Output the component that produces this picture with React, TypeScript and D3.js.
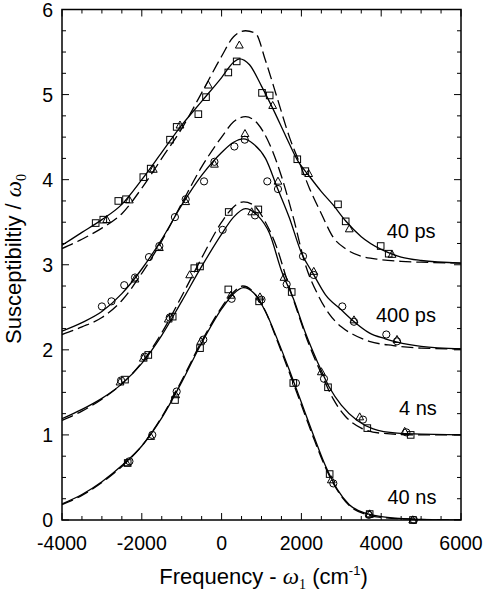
import React from "react";
import * as d3 from "d3";

type P = [number, number];

const xTicks = [-4000, -2000, 0, 2000, 4000, 6000];
const yTicks = [0, 1, 2, 3, 4, 5, 6];
const curveLabels = [
  { text: "40 ps", x: 4750, y: 3.32 },
  { text: "400 ps", x: 4620, y: 2.33 },
  { text: "4 ns", x: 4920, y: 1.23 },
  { text: "40 ns", x: 4770, y: 0.19 },
];

// ---- fitted curves (solid) and model curves (dashed) ----
const ps40Solid: P[] = [[-4000,3.23],[-3500,3.38],[-3000,3.53],[-2500,3.71],[-2000,4.0],[-1500,4.32],[-1000,4.64],[-500,4.92],[0,5.2],[300,5.38],[450,5.42],[700,5.35],[1000,5.1],[1300,4.82],[1600,4.52],[1900,4.23],[2200,4.04],[2500,3.86],[2800,3.7],[3100,3.52],[3500,3.33],[4000,3.18],[4500,3.09],[5000,3.05],[6000,3.02]];
const ps40Dash: P[] = [[-4000,3.19],[-3500,3.3],[-3000,3.43],[-2500,3.6],[-2000,3.9],[-1500,4.25],[-1000,4.6],[-500,5.02],[0,5.45],[300,5.68],[600,5.75],[850,5.72],[1100,5.4],[1400,4.95],[1700,4.5],[1950,4.2],[2200,3.9],[2500,3.6],[2800,3.32],[3100,3.19],[3500,3.1],[4000,3.06],[4500,3.04],[5000,3.03],[6000,3.02]];
const ps400Solid: P[] = [[-4000,2.22],[-3500,2.32],[-3000,2.45],[-2500,2.66],[-2000,2.95],[-1500,3.3],[-1000,3.7],[-500,4.05],[0,4.32],[300,4.44],[550,4.48],[800,4.42],[1100,4.25],[1400,3.9],[1700,3.55],[2000,3.14],[2300,2.89],[2600,2.65],[3000,2.47],[3300,2.34],[3700,2.2],[4100,2.13],[4400,2.09],[5000,2.04],[6000,2.01]];
const ps400Dash: P[] = [[-4000,2.18],[-3500,2.27],[-3000,2.38],[-2500,2.58],[-2000,2.9],[-1500,3.28],[-1000,3.72],[-500,4.15],[0,4.5],[300,4.68],[600,4.74],[900,4.66],[1200,4.42],[1500,4.04],[1800,3.55],[2100,3.0],[2400,2.66],[2700,2.42],[3000,2.27],[3300,2.18],[3700,2.1],[4300,2.05],[5000,2.02],[6000,2.01]];
const ns4Solid: P[] = [[-4000,1.19],[-3500,1.3],[-3000,1.43],[-2500,1.6],[-2000,1.84],[-1500,2.17],[-1000,2.57],[-500,2.98],[0,3.36],[300,3.56],[600,3.66],[900,3.58],[1200,3.37],[1500,2.93],[1800,2.6],[2100,2.2],[2400,1.86],[2700,1.56],[3000,1.35],[3400,1.17],[3800,1.07],[4400,1.02],[5000,1.01],[6000,1.0]];
const ns4Dash: P[] = [[-4000,1.17],[-3500,1.28],[-3000,1.42],[-2500,1.6],[-2000,1.85],[-1500,2.2],[-1000,2.63],[-500,3.08],[0,3.5],[300,3.68],[550,3.74],[800,3.7],[1100,3.5],[1400,3.18],[1600,2.88],[1900,2.45],[2200,2.05],[2500,1.72],[2800,1.42],[3100,1.22],[3500,1.08],[4000,1.02],[5000,1.0],[6000,1.0]];
const ns40Solid: P[] = [[-4000,0.19],[-3500,0.3],[-3000,0.45],[-2500,0.64],[-2000,0.87],[-1500,1.2],[-1000,1.62],[-500,2.08],[0,2.48],[300,2.66],[550,2.73],[800,2.67],[1100,2.45],[1400,2.12],[1700,1.76],[2000,1.38],[2300,1.0],[2600,0.64],[2900,0.36],[3200,0.18],[3600,0.08],[4000,0.04],[4800,0.01],[6000,0.0]];
const ns40Dash: P[] = [[-4000,0.18],[-3500,0.29],[-3000,0.44],[-2500,0.63],[-2000,0.87],[-1500,1.21],[-1000,1.64],[-500,2.1],[0,2.5],[300,2.68],[530,2.75],[800,2.68],[1100,2.45],[1400,2.1],[1700,1.73],[2000,1.35],[2300,0.97],[2600,0.62],[2900,0.35],[3200,0.17],[3600,0.07],[4000,0.03],[4800,0.01],[6000,0.0]];

// ---- data points ----
const squares: P[] = [
  [-3156,3.49],[-2965,3.53],[-2589,3.75],[-2396,3.77],[-1962,4.03],[-1777,4.13],[-1293,4.47],[-1126,4.62],[-583,4.77],[-391,4.97],[168,5.26],[378,5.39],[1013,5.02],[1205,4.99],[1897,4.24],[2098,4.1],[2917,3.71],[3110,3.51],[3987,3.22],[4188,3.13],
  [-2421,1.65],[-1837,1.94],[-1226,2.39],[-684,2.96],[-541,2.98],[178,3.62],[920,3.65],[1757,2.68],[2667,1.56],[3652,1.08],[4739,1.0],
  [-2353,0.67],[-1168,1.41],[-541,2.02],[168,2.71],[940,2.57],[1797,1.61],[2708,0.54],[3711,0.07],[4797,0.0],
];
const triangles: P[] = [
  [-2880,3.53],[-2313,3.76],[-1712,4.12],[-1043,4.64],[-333,5.11],[444,5.58],[1280,4.87],[2182,4.07],[3200,3.42],[4271,3.12],
  [-2170,2.83],[-1560,3.2],[-900,3.74],[-180,4.18],[586,4.54],[1413,3.98],[2310,2.92],[3318,2.35],[4396,2.12],
  [-2546,1.62],[-1962,1.9],[-1336,2.36],[-800,2.88],[754,3.62],[1564,2.85],[2499,1.74],[3461,1.21],[4589,1.04],
  [-2380,0.67],[-1777,0.98],[-1150,1.47],[-520,2.1],[230,2.64],[962,2.62],[2750,0.47],[3711,0.07],[4790,0.0],
];
const circles: P[] = [
  [-3000,2.51],[-2760,2.57],[-2440,2.76],[-2170,2.85],[-1820,3.09],[-1560,3.22],[-1170,3.56],[-900,3.77],[-440,3.98],[-180,4.21],[320,4.39],[580,4.47],[1145,3.98],[1413,3.89],[2040,3.1],[2310,2.88],[3025,2.51],[3318,2.33],[4128,2.18],[4396,2.1],
  [-2520,1.64],[-1930,1.92],[-1300,2.38],[27,3.41],[837,3.58],[1631,2.77],[2566,1.66],[3544,1.18],[4630,1.03],
  [-2310,0.69],[-1737,1.0],[-1126,1.51],[-459,2.12],[252,2.6],[1000,2.59],[1863,1.61],[2800,0.43],[3690,0.06],[4820,0.0],
];

const W = 486, H = 596;
const L = 62, R = 461, T = 9.5, B = 520;
const FONT = "Arial, 'Liberation Sans', Helvetica, sans-serif";
const SERIF = "'Times New Roman', 'Liberation Serif', serif";

export default function App() {
  const x = d3.scaleLinear().domain([-4000, 6000]).range([L, R]);
  const y = d3.scaleLinear().domain([0, 6]).range([B, T]);
  const line = d3.line<P>().x(d => x(d[0])).y(d => y(d[1])).curve(d3.curveMonotoneX);

  const xMinor = d3.range(-4000, 6001, 500);
  const yMinor = d3.range(0, 6.001, 0.25);

  const solids = [ps40Solid, ps400Solid, ns4Solid, ns40Solid];
  const dashes = [ps40Dash, ps400Dash, ns4Dash, ns40Dash];

  return (
    <svg width={W} height={H} style={{ position: "absolute", left: 0, top: 0, background: "#fff" }}>
      <rect x={0} y={0} width={W} height={H} fill="#fff" />
      <defs>
        <clipPath id="plot"><rect x={L} y={T} width={R - L} height={B - T} /></clipPath>
      </defs>
      <g clipPath="url(#plot)" fill="none" stroke="#000">
        {dashes.map((d, i) => <path key={"d" + i} d={line(d) || ""} strokeWidth={1.3} strokeDasharray="12,5" />)}
        {solids.map((d, i) => <path key={"s" + i} d={line(d) || ""} strokeWidth={1.3} />)}
      </g>
      <g fill="none" stroke="#000" strokeWidth={1}>
        {squares.map((d, i) => <rect key={"q" + i} x={x(d[0]) - 3.3} y={y(d[1]) - 3.3} width={6.6} height={6.6} />)}
        {triangles.map((d, i) => {
          const cx = x(d[0]), cy = y(d[1]);
          return <path key={"t" + i} d={`M${cx},${cy - 4.2}L${cx + 3.9},${cy + 2.8}L${cx - 3.9},${cy + 2.8}Z`} />;
        })}
        {circles.map((d, i) => <circle key={"c" + i} cx={x(d[0])} cy={y(d[1])} r={3.6} />)}
      </g>
      {/* ticks */}
      <g stroke="#000" strokeWidth={1}>
        {xMinor.map(v => {
          const major = v % 2000 === 0;
          const len = major ? 7 : 4;
          return (
            <g key={"xt" + v}>
              <line x1={x(v)} x2={x(v)} y1={B} y2={B - len} />
              <line x1={x(v)} x2={x(v)} y1={T} y2={T + len} />
            </g>
          );
        })}
        {yMinor.map(v => {
          const major = Math.abs(v - Math.round(v)) < 1e-6;
          const len = major ? 7 : 4;
          return (
            <g key={"yt" + v}>
              <line x1={L} x2={L + len} y1={y(v)} y2={y(v)} />
              <line x1={R} x2={R - len} y1={y(v)} y2={y(v)} />
            </g>
          );
        })}
      </g>
      <rect x={L} y={T} width={R - L} height={B - T} fill="none" stroke="#000" strokeWidth={1.5} />
      {/* tick labels */}
      <g fontFamily={FONT} fontSize={19.5} fill="#000">
        {xTicks.map(v => (
          <text key={"xl" + v} x={x(v)} y={B + 30} textAnchor="middle">{v}</text>
        ))}
        {yTicks.map(v => (
          <text key={"yl" + v} x={L - 9} y={y(v) + 7} textAnchor="end">{v}</text>
        ))}
      </g>
      <g fontFamily={FONT} fontSize={20} fill="#000">
        {curveLabels.map(c => (
          <text key={c.text} x={x(c.x)} y={y(c.y)} textAnchor="middle">{c.text}</text>
        ))}
      </g>
      {/* axis titles */}
      <text x={(L + R) / 2 + 2} y={584} textAnchor="middle" fontFamily={FONT} fontSize={22} fill="#000">
        Frequency - <tspan fontFamily={SERIF} fontStyle="italic" fontSize={23}>ω</tspan>
        <tspan fontFamily={SERIF} fontSize={14} dy={5}>1</tspan>
        <tspan dy={-5}> (cm</tspan>
        <tspan fontSize={13} dy={-9}>-1</tspan>
        <tspan dy={9}>)</tspan>
      </text>
      <text transform={`translate(21, 259) rotate(-90)`} textAnchor="middle" fontFamily={FONT} fontSize={22} fill="#000">
        Susceptibiltiy / <tspan fontFamily={SERIF} fontStyle="italic" fontSize={23}>ω</tspan>
        <tspan fontFamily={SERIF} fontSize={14} dy={5}>0</tspan>
      </text>
    </svg>
  );
}
